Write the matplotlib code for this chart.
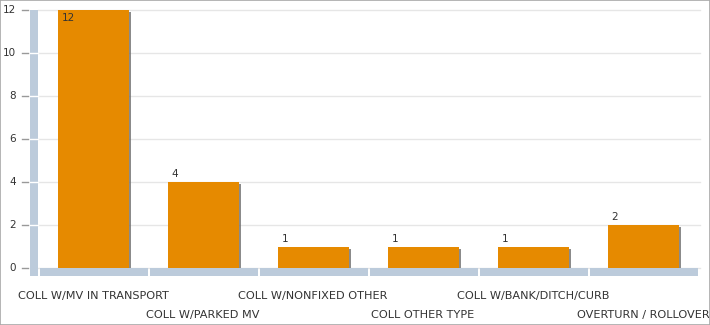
import matplotlib.pyplot as plt
from matplotlib.patches import Rectangle
import matplotlib.transforms as mtransforms

categories = ['COLL W/MV IN TRANSPORT', 'COLL W/PARKED MV', 'COLL W/NONFIXED OTHER',
              'COLL OTHER TYPE', 'COLL W/BANK/DITCH/CURB', 'OVERTURN / ROLLOVER']
values = [12, 4, 1, 1, 1, 2]
yticks = [0, 2, 4, 6, 8, 10, 12]

W, H = 710, 325
fig = plt.figure(figsize=(W / 100, H / 100), dpi=100)
# axes in pixel coordinates: x 38..698, y(0)=268, y(12)=10
ax = fig.add_axes([38 / W, (H - 268) / H, 660 / W, 258 / H])
ax.set_xlim(-0.5, 5.5)
ax.set_ylim(0, 12)
for s in ax.spines.values():
    s.set_visible(False)
ax.set_xticks([])
ax.set_yticks([])

px_x = 1 / 110.0          # data units per pixel in x
px_y = 12 / 258.0         # data units per pixel in y

# grid lines
for t in yticks:
    ax.plot([-0.5, 5.5 + 2 * px_x], [t, t], color='#e6e6e6', lw=1, zorder=0, clip_on=False)

# left wall
wall_h = 8 * px_y
ax.add_patch(Rectangle((-0.5 - 8 * px_x, -wall_h), 8 * px_x, 12 + wall_h,
                       color='#bccbdb', lw=0, clip_on=False, zorder=1))
for t in yticks[1:-1]:
    ax.plot([-0.5 - 8 * px_x, -0.5], [t, t], color='white', lw=1, zorder=2, clip_on=False)
for t in yticks:
    ax.plot([-0.5 - 16 * px_x, -0.5 - 10 * px_x], [t, t], color='#999999', lw=1,
            zorder=2, clip_on=False)
    ax.text(-0.5 - 22 * px_x, t, str(t), ha='right', va='center', fontsize=7.5,
            color='#333333', clip_on=False)

# floor segments
for i in range(len(categories)):
    ax.add_patch(Rectangle((i - 0.5 + 2 * px_x, -wall_h), 1 - 2 * px_x, wall_h,
                           color='#bccbdb', lw=0, clip_on=False, zorder=1))

# bars with shadow
bw = 71 / 110.0
shadow = mtransforms.offset_copy(ax.transData, fig=fig, x=2, y=-2, units='dots')
for i, v in enumerate(values):
    ax.add_patch(Rectangle((i - bw / 2, 0), bw, v, color='#6e6e6e', alpha=0.8,
                           lw=0, transform=shadow, zorder=2))
    ax.add_patch(Rectangle((i - bw / 2, 0), bw, v, color='#e68a00', lw=0, zorder=3))
    if v >= 12:
        ax.annotate(str(v), (i - bw / 2, v), xytext=(4, -3), textcoords='offset pixels',
                    ha='left', va='top', fontsize=7.5, color='#333333', zorder=4)
    else:
        ax.annotate(str(v), (i - bw / 2, v), xytext=(4, 3), textcoords='offset pixels',
                    ha='left', va='bottom', fontsize=7.5, color='#333333', zorder=4)

# staggered category labels
tr = ax.get_xaxis_transform()
for i, c in enumerate(categories):
    off = 28 if i % 2 == 0 else 47
    ax.text(i, -off / 258.0, c, transform=tr, ha='center', va='center',
            fontsize=8.1, color='#333333', clip_on=False)

# figure border
fig.patches.append(Rectangle((0, 0), 1, 1, transform=fig.transFigure, fill=False,
                             edgecolor='#a8a8a8', lw=1.2))

fig.savefig('out.png', dpi=100)
